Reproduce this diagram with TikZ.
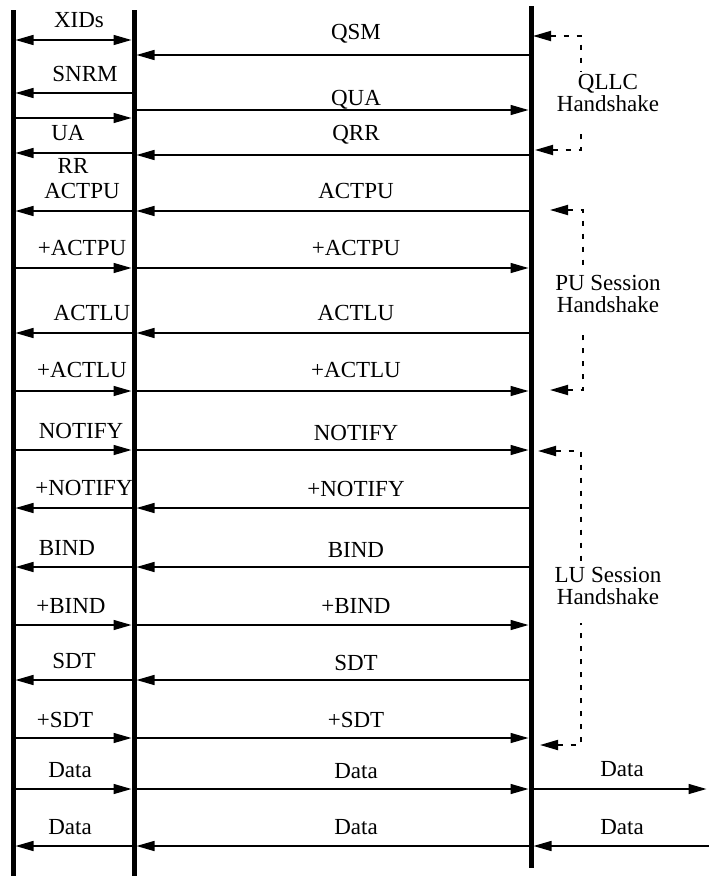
\documentclass[tikz,border=0pt]{standalone}
\usepackage{fontspec}
\setmainfont{Liberation Serif}
\usetikzlibrary{arrows.meta}

\begin{document}
\begin{tikzpicture}[x=1pt, y=-1pt,
    every node/.style={font=\fontsize{23}{22}\selectfont, inner sep=0pt},
    lbl/.style={anchor=base},
    life/.style={line width=5pt},
    msg/.style={line width=1.5pt, -{Triangle[length=18pt,width=10pt]}, shorten >=2.5pt},
    hshake/.style={line width=1.8pt, dash pattern=on 5pt off 8pt, {Triangle[length=18pt,width=10pt]}-},
    hlbl/.style={anchor=north, align=center, inner sep=3pt}]
    \useasboundingbox (0,0) rectangle (709,876);

    \coordinate (host) at (13,10);
    \coordinate (hostEnd) at (13,876);
    \coordinate (mid) at (134,10);
    \coordinate (midEnd) at (134,876);
    \coordinate (net) at (531,6);
    \coordinate (netEnd) at (531,868);
    \draw[life] (host) -- (hostEnd);
    \draw[life] (mid) -- (midEnd);
    \draw[life] (net) -- (netEnd);

    \node[lbl] (xids) at (79,27) {XIDs};
    \draw[msg, {Triangle[length=18pt,width=10pt]}-{Triangle[length=18pt,width=10pt]}, shorten <=2.5pt] (host |- 0,40) -- (mid |- 0,40);
    \node[lbl] (qsm) at (356,39) {QSM};
    \draw[msg] (net |- 0,55) -- (mid |- 0,55);
    \node[lbl] (snrm) at (85,81) {SNRM};
    \draw[msg] (mid |- 0,93) -- (host |- 0,93);
    \node[lbl] (qua) at (356,105) {QUA};
    \draw[msg] (mid |- 0,110) -- (net |- 0,110);
    \node[lbl] (ua) at (68,140) {UA};
    \draw[msg] (host |- 0,118) -- (mid |- 0,118);
    \node[lbl] (qrr) at (356,140) {QRR};
    \draw[msg] (net |- 0,155) -- (mid |- 0,155);
    \node[lbl] (rr) at (73,173) {RR};
    \draw[msg] (mid |- 0,153) -- (host |- 0,153);

    \node[lbl] (actpuL) at (82,198) {ACTPU};
    \node[lbl] (actpuM) at (356,198) {ACTPU};
    \draw[msg] (mid |- 0,211) -- (host |- 0,211);
    \draw[msg] (net |- 0,211) -- (mid |- 0,211);
    \node[lbl] (pactpuL) at (82,255) {+ACTPU};
    \node[lbl] (pactpuM) at (356,255) {+ACTPU};
    \draw[msg] (host |- 0,268) -- (mid |- 0,268);
    \draw[msg] (mid |- 0,268) -- (net |- 0,268);
    \node[lbl] (actluL) at (92,320) {ACTLU};
    \node[lbl] (actluM) at (356,320) {ACTLU};
    \draw[msg] (mid |- 0,333) -- (host |- 0,333);
    \draw[msg] (net |- 0,333) -- (mid |- 0,333);
    \node[lbl] (pactluL) at (82,377) {+ACTLU};
    \node[lbl] (pactluM) at (356,377) {+ACTLU};
    \draw[msg] (host |- 0,391) -- (mid |- 0,391);
    \draw[msg] (mid |- 0,391) -- (net |- 0,391);

    \node[lbl] (notifyL) at (81,438) {NOTIFY};
    \node[lbl] (notifyM) at (356,440) {NOTIFY};
    \draw[msg] (host |- 0,450) -- (mid |- 0,450);
    \draw[msg] (mid |- 0,450) -- (net |- 0,450);
    \node[lbl] (pnotifyL) at (84,495) {+NOTIFY};
    \node[lbl] (pnotifyM) at (356,496) {+NOTIFY};
    \draw[msg] (mid |- 0,508) -- (host |- 0,508);
    \draw[msg] (net |- 0,508) -- (mid |- 0,508);
    \node[lbl] (bindL) at (67,555) {BIND};
    \node[lbl] (bindM) at (356,557) {BIND};
    \draw[msg] (mid |- 0,567) -- (host |- 0,567);
    \draw[msg] (net |- 0,567) -- (mid |- 0,567);
    \node[lbl] (pbindL) at (71,613) {+BIND};
    \node[lbl] (pbindM) at (356,613) {+BIND};
    \draw[msg] (host |- 0,625) -- (mid |- 0,625);
    \draw[msg] (mid |- 0,625) -- (net |- 0,625);
    \node[lbl] (sdtL) at (74,668) {SDT};
    \node[lbl] (sdtM) at (356,670) {SDT};
    \draw[msg] (mid |- 0,680) -- (host |- 0,680);
    \draw[msg] (net |- 0,680) -- (mid |- 0,680);
    \node[lbl] (psdtL) at (65,727) {+SDT};
    \node[lbl] (psdtM) at (356,727) {+SDT};
    \draw[msg] (host |- 0,738) -- (mid |- 0,738);
    \draw[msg] (mid |- 0,738) -- (net |- 0,738);

    \coordinate (outA) at (709,789);
    \coordinate (outB) at (709,846);
    \node[lbl] (dataL) at (70,777) {Data};
    \node[lbl] (dataM) at (356,778) {Data};
    \node[lbl] (dataR) at (622,776) {Data};
    \draw[msg] (host |- 0,789) -- (mid |- 0,789);
    \draw[msg] (mid |- 0,789) -- (net |- 0,789);
    \draw[msg] (net |- 0,789) -- (outA);
    \node[lbl] (data2L) at (70,834) {Data};
    \node[lbl] (data2M) at (356,834) {Data};
    \node[lbl] (data2R) at (622,834) {Data};
    \draw[msg] (mid |- 0,846) -- (host |- 0,846);
    \draw[msg] (net |- 0,846) -- (mid |- 0,846);
    \draw[msg] (outB) -- (net |- 0,846);

    \node[hlbl] (qllc) at (608,71) {QLLC\\Handshake};
    \coordinate (qllcA) at (533,36);
    \coordinate (qllcB) at (535,150);
    \coordinate (qllcGap) at ([yshift=-16pt]qllc.south);
    \draw[hshake] (qllcA) -- ++(48,0) coordinate (qc) -- (qc |- qllc.north);
    \draw[hshake] (qllcB) -- ++(46,0) coordinate (qd) -- (qd |- qllcGap);

    \node[hlbl] (pu) at (608,272) {PU Session\\Handshake};
    \coordinate (puA) at (550,210);
    \coordinate (puB) at (550,390);
    \coordinate (puGap) at ([yshift=-15pt]pu.south);
    \draw[hshake] (puA) -- ++(33,0) coordinate (pc) -- (pc |- pu.north);
    \draw[hshake] (puB) -- ++(33,0) coordinate (pd) -- (pd |- puGap);

    \node[hlbl] (lu) at (608,564) {LU Session\\Handshake};
    \coordinate (luA) at (538,451);
    \coordinate (luB) at (540,745);
    \coordinate (luGap) at ([yshift=-15pt]lu.south);
    \draw[hshake] (luA) -- ++(43,0) coordinate (lc) -- (lc |- lu.north);
    \draw[hshake] (luB) -- ++(41,0) coordinate (ld) -- (ld |- luGap);
\end{tikzpicture}
\end{document}
